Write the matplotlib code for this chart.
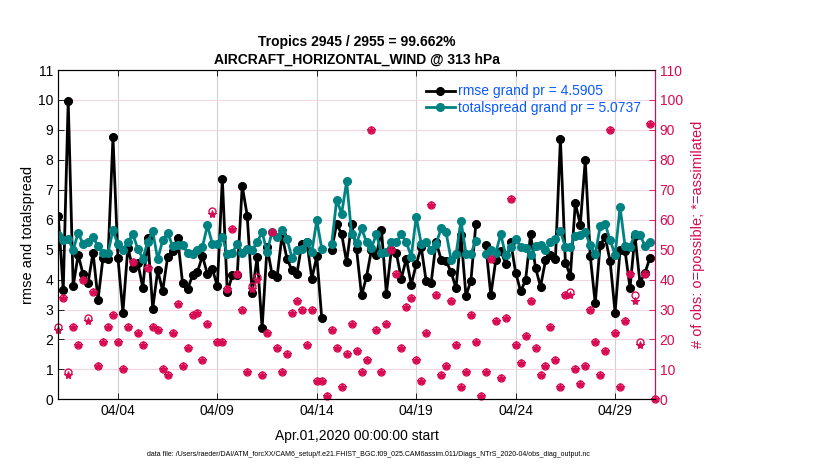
import matplotlib
matplotlib.use("Agg")
import matplotlib.pyplot as plt
import matplotlib.dates as mdates
import numpy as np
import pandas as pd

plt.rcParams['font.family'] = ['Liberation Sans', 'DejaVu Sans']

nan = np.nan

# 6-hourly bins, Apr 1 00Z .. May 1 00Z
times = pd.date_range("2020-04-01 00:00", periods=121, freq="6h")

rmse = [6.14, 3.64, 9.98, 3.78, 4.83, 4.17, 3.90, 4.90, 3.33, 4.73,
        4.68, 8.76, 4.73, 2.90, 5.07, 4.37, 4.56, 3.73, 5.40, 3.03,
        4.31, 3.62, 4.76, 4.96, 5.40, 3.89, 3.67, 4.14, 4.26, 4.79,
        4.18, 4.34, 3.79, 7.37, 3.57, 4.14, 4.16, 7.13, 6.14, 3.55,
        4.74, 2.37, 5.10, 4.17, 4.07, 5.48, 4.70, 4.31, 4.20, 5.20,
        5.26, 4.03, 4.78, 2.70, nan, 5.00, 5.86, 5.52, 4.58, 5.86,
        5.01, 3.47, 4.09, 5.00, 4.81, 5.67, 3.53, 5.00, 4.88, 4.03,
        4.70, 3.83, 4.51, 5.09, 3.94, 3.89, 5.26, 4.67, 4.62, 4.26,
        3.71, 5.48, 3.46, 3.96, 5.87, nan, 5.14, 3.48, 4.64, 4.96,
        4.53, 5.26, 4.23, 3.61, 3.98, 5.51, 4.40, 3.76, 4.64, 4.83,
        4.70, 8.70, 4.57, 4.12, 6.56, 5.83, 7.99, 4.79, 3.21, 5.17,
        5.42, 4.61, 2.90, 4.99, 4.96, 3.73, 5.46, 3.90, 4.22, 4.73,
        nan]

totalspread = [5.48, 5.31, 5.37, 4.98, 5.56, 5.18, 5.26, 5.42, 5.11, 4.90,
               4.90, 5.64, 5.18, 5.00, 5.26, 5.51, 5.03, 4.70, 5.26, 5.61,
               4.68, 5.31, 5.57, 5.11, 5.14, 5.14, 4.90, 4.84, 5.00, 5.09,
               5.81, 5.19, 5.20, 5.42, 4.85, 4.89, 5.19, 4.90, 5.01, 4.98,
               5.25, 5.59, 4.92, 5.59, 5.42, 5.67, 5.37, 4.73, 5.00, 5.01,
               5.26, 4.92, 5.98, 5.03, nan, 5.20, 6.67, 6.20, 7.28, 5.53,
               5.21, 5.71, 5.25, 5.07, 5.51, 4.88, 4.92, 5.26, 5.24, 5.51,
               5.25, 4.77, 6.09, 5.20, 5.24, 4.98, 5.19, 5.71, 5.58, 4.67,
               4.85, 5.96, 4.87, 4.87, 5.29, nan, 4.87, 4.98, 4.90, 5.51,
               4.81, 5.09, 5.37, 5.09, 5.06, 4.81, 5.11, 5.14, 5.00, 5.26,
               5.37, 5.61, 5.09, 5.09, 5.46, 5.50, 5.59, 5.14, 4.84, 5.78,
               5.87, 5.31, 4.83, 6.42, 5.12, 5.09, 5.53, 5.50, 5.12, 5.26,
               nan]

nused = [23, 34, 8, 24, 18, 40, 26, 36, 11, 19,
         24, 28, 19, 10, 24, 46, 22, 18, 44, 24,
         23, 10, 8, 22, 32, 11, 17, 28, 29, 13,
         25, 62, 19, 19, 37, 57, 42, 30, 9, 37,
         40, 8, 22, 56, 17, 9, 15, 29, 33, 30,
         18, 30, 6, 6, 1, 23, 17, 4, 15, 25,
         16, 9, 13, 90, 23, 9, 25, 50, 42, 17,
         31, 34, 13, 6, 22, 65, 35, 8, 11, 33,
         18, 4, 9, 28, 19, 1, 9, 47, 26, 7,
         27, 67, 18, 12, 21, 33, 17, 8, 11, 24,
         13, 4, 35, 35, 10, 5, 11, 30, 19, 8,
         16, 90, 22, 4, 26, 42, 33, 18, 42, 92,
         0]

nposs = [24, 34, 9, 24, 18, 40, 27, 36, 11, 19,
         24, 28, 19, 10, 24, 46, 22, 18, 44, 24,
         23, 10, 8, 22, 32, 11, 17, 28, 29, 13,
         25, 63, 19, 19, 37, 57, 42, 30, 9, 38,
         41, 8, 22, 56, 17, 9, 15, 29, 33, 30,
         18, 30, 6, 6, 1, 23, 17, 4, 15, 25,
         16, 9, 13, 90, 23, 9, 25, 50, 42, 17,
         31, 34, 13, 6, 22, 65, 35, 8, 11, 33,
         18, 4, 9, 28, 19, 1, 9, 47, 26, 7,
         27, 67, 18, 12, 21, 33, 17, 8, 11, 24,
         13, 4, 35, 36, 10, 5, 11, 30, 19, 8,
         16, 90, 22, 4, 26, 42, 35, 19, 42, 92,
         0]

tick_days = ["2020-04-04", "2020-04-09", "2020-04-14", "2020-04-19", "2020-04-24", "2020-04-29"]

obs_color = "#d70a53"
teal = "#008282"
legend_blue = "#0a5aff"

fig = plt.figure(figsize=(8.3, 4.7), dpi=100)
ax = fig.add_axes([0.0702, 0.1504, 0.7188, 0.7006])
ax2 = ax.twinx()

# rmse & spread on the left axis
ax.plot(times, rmse, '-o', color='k', lw=2, ms=5.5, mfc='k', mec='k',
        label="rmse grand pr = 4.5905", zorder=2)
ax.plot(times, rmse, '*', color='k', ms=5.5, zorder=2)
ax.plot(times, totalspread, '-o', color=teal, lw=2, ms=5.5, mfc=teal, mec=teal,
        label="totalspread grand pr = 5.0737", zorder=3)

# obs counts on the right axis
ax2.plot(times, nposs, 'o', color=obs_color, ms=5, mfc='none', mew=1.0, clip_on=False)
ax2.plot(times, nused, '*', color=obs_color, ms=6, mew=0.8, clip_on=False)

xmin = pd.Timestamp("2020-04-01 00:00")
xmax = pd.Timestamp("2020-05-01 00:00")
ax.set_xlim(xmin, xmax)
ax.set_ylim(0, 11)
ax2.set_ylim(0, 110)
ax.set_yticks(range(0, 12))
ax2.set_yticks(range(0, 111, 10))
ax.set_xticks(pd.to_datetime(tick_days))
ax.xaxis.set_major_formatter(mdates.DateFormatter('%m/%d'))

ax.grid(axis='x', color='#d2d2d2', lw=0.8)
ax.grid(axis='y', color='#f3d5e0', lw=0.8)
ax.set_axisbelow(True)

ax.tick_params(axis='both', direction='in', labelsize=10, length=4, width=0.6,
               top=True)
ax.tick_params(axis='y', right=False)
ax2.tick_params(axis='y', direction='in', labelsize=10, length=4, width=0.6,
                colors=obs_color)

for s in ax2.spines.values():
    s.set_linewidth(0.8)
ax2.spines['right'].set_color(obs_color)
ax2.spines['left'].set_color('k')
ax2.spines['top'].set_color('k')
ax2.spines['bottom'].set_color('k')

ax.set_ylabel("rmse and totalspread", fontsize=10.5, labelpad=2)
ax2.set_ylabel("# of obs: o=possible; *=assimilated", fontsize=10.5,
               color=obs_color, labelpad=6)
ax.set_xlabel("Apr.01,2020 00:00:00 start", fontsize=10, labelpad=8)
ax.set_title("Tropics 2945 / 2955 = 99.662%\nAIRCRAFT_HORIZONTAL_WIND @ 313 hPa",
             fontsize=10, fontweight='bold', linespacing=1.35, pad=4.5)

leg = ax.legend(loc='upper right', frameon=False, fontsize=10,
                handlelength=2.1, handletextpad=0.25, labelspacing=0.15,
                borderaxespad=0.4, bbox_to_anchor=(0.996, 0.99))
for t in leg.get_texts():
    t.set_color(legend_blue)

fig.text(0.4435, 0.034,
         "data file: /Users/raeder/DAI/ATM_forcXX/CAM6_setup/f.e21.FHIST_BGC.f09_025.CAM6assim.011/Diags_NTrS_2020-04/obs_diag_output.nc",
         fontsize=5, ha='center', va='center')

fig.savefig("out.png", dpi=100)
